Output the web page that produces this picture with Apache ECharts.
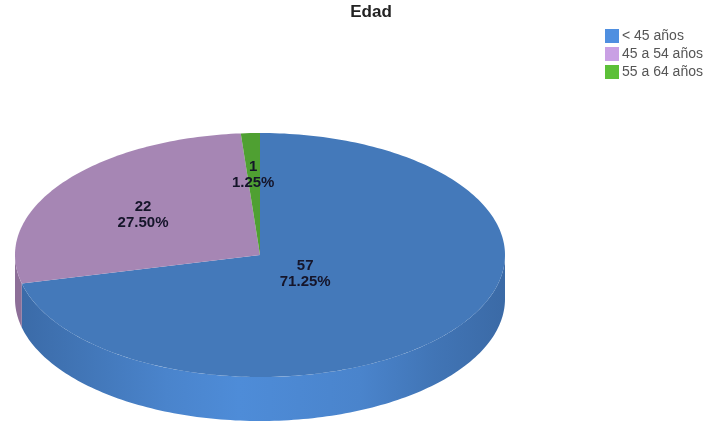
<!DOCTYPE html>
<html><head><meta charset="utf-8">
<style>html,body{margin:0;padding:0;background:#fff}#c{width:705px;height:421px}</style>
<script src="https://cdn.jsdelivr.net/npm/echarts@6/dist/echarts.min.js"></script>
</head><body><div id="c"></div>
<script>
const categories = ['< 45 años', '45 a 54 años', '55 a 64 años'];
const values = [57, 22, 1];
const percents = ['71.25%', '27.50%', '1.25%'];
const titleText = 'Edad';

const total = values.reduce((a, b) => a + b, 0);
const geo = {cx: 260, cy: 255, rx: 245, ry: 122, depth: 44};
const labelRadiusX = [0.235, 0.59, 0.71];
const labelRadiusY = [0.245, 0.56, 0.656];
const topColors = ['#4479ba', '#a686b4', '#4fa032'];
const legendColors = ['#4f8fe0', '#c9a0e4', '#5cc038'];
const wallFills = [
  {type:'linear',x:0,y:0,x2:1,y2:0,colorStops:[
    {offset:0,color:'#3b6ba8'},{offset:0.12,color:'#4175b6'},{offset:0.3,color:'#4a84cc'},{offset:0.45,color:'#4e8cd8'},
    {offset:0.7,color:'#4a84cc'},{offset:0.85,color:'#4175b6'},{offset:1,color:'#3b6aa6'}]},
  '#8d6f98', '#3f8a26'
];
const pt = (t, dy) => [geo.cx + geo.rx * Math.sin(t), geo.cy - geo.ry * Math.cos(t) + (dy || 0)];
const arc = (a, b, dy) => {
  const n = Math.max(2, Math.ceil((b - a) / 0.02)), out = [];
  for (let i = 0; i <= n; i++) out.push(pt(a + (b - a) * i / n, dy));
  return out;
};
const startOf = i => values.slice(0, i).reduce((a, b) => a + b, 0) / total * 2 * Math.PI;

function renderSlice(i) {
  return function (params, api) {
    const a = startOf(i), b = a + api.value(0) / total * 2 * Math.PI;
    const children = [];
    const wa = Math.max(a, Math.PI / 2), wb = Math.min(b, Math.PI * 1.5);
    if (wb > wa) {
      children.push({type: 'polygon',
        shape: {points: arc(wa, wb, 0).concat(arc(wa, wb, geo.depth).reverse())},
        style: {fill: wallFills[i]}});
    }
    children.push({type: 'polygon',
      shape: {points: [[geo.cx, geo.cy]].concat(arc(a, b, 0))},
      style: {fill: topColors[i]}});
    const m = (a + b) / 2;
    children.push({type: 'text', z2: 100,
      x: geo.cx + labelRadiusX[i] * geo.rx * Math.sin(m), y: geo.cy - labelRadiusY[i] * geo.ry * Math.cos(m),
      style: {text: api.value(0) + '\n' + percents[i], align: 'center', verticalAlign: 'middle',
        font: 'bold 15px "Liberation Sans", Arial, sans-serif', fill: '#15152a', lineHeight: 16}});
    return {type: 'group', children};
  };
}

const chart = echarts.init(document.getElementById('c'), null, {renderer: 'canvas'});
chart.setOption({
  animation: false,
  backgroundColor: '#fff',
  color: legendColors,
  title: {text: titleText, left: 371, top: 1, padding: [3, 0, 0, 0], textAlign: 'center',
    textStyle: {fontFamily: '"Liberation Sans", Arial, sans-serif', fontWeight: 'bold', fontSize: 17, color: '#222'}},
  legend: {orient: 'vertical', left: 605, top: 29, padding: 0, itemWidth: 14, itemHeight: 14, itemGap: 4,
    selectedMode: false,
    textStyle: {fontFamily: '"Liberation Sans", Arial, sans-serif', fontSize: 14, color: '#555', padding: [0, 0, 0, -2]},
    data: categories.map((name, i) => ({name, icon: 'rect', itemStyle: {color: legendColors[i]}}))},
  series: categories.map((name, i) => ({
    type: 'custom', name, coordinateSystem: 'none', silent: true,
    renderItem: renderSlice(i), data: [[values[i]]]
  }))
});
</script></body></html>
